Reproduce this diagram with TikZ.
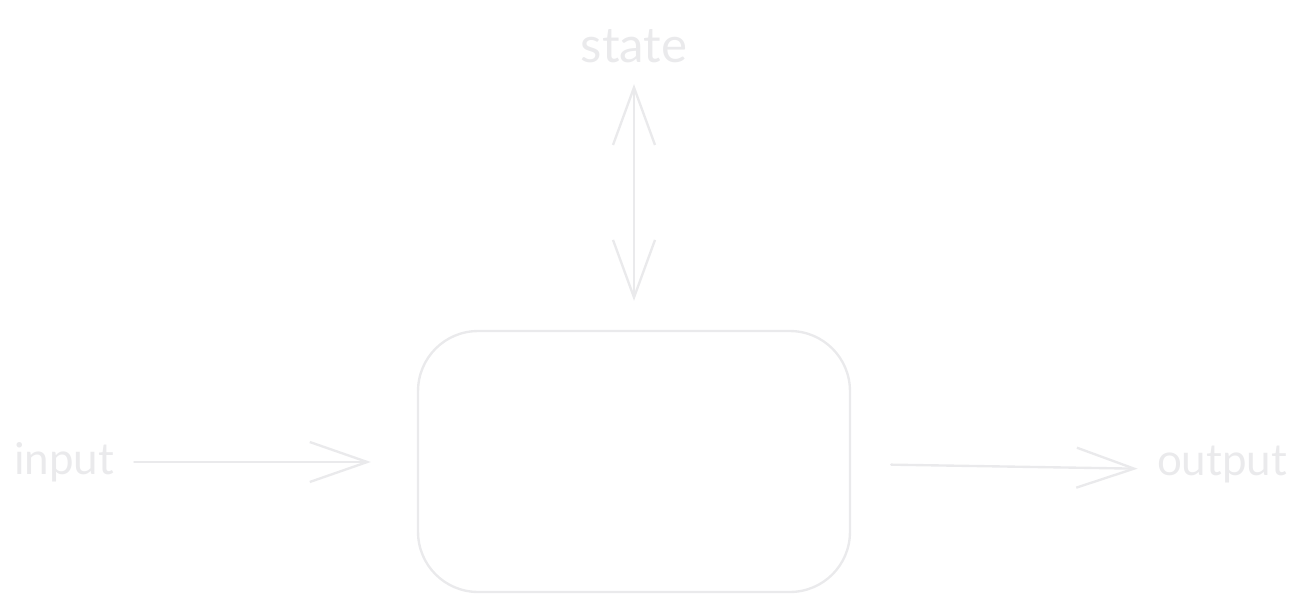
\documentclass[tikz,border=0pt]{standalone}
\usepackage{fontspec}
\setmainfont{Lato}
\usetikzlibrary{arrows.meta}

\definecolor{sketchgray}{RGB}{234,234,236}

\begin{document}
\begin{tikzpicture}[x=0.02cm, y=-0.02cm,
  textstyle/.style={sketchgray, inner sep=0pt, font=\fontsize{25}{30}\selectfont},
  flow/.style={sketchgray, line width=1.35pt, line cap=round,
    -{Straight Barb[length=1.15cm, width=0.8cm, line width=1.35pt]}}]

  \useasboundingbox (0,0) rectangle (1308,612);

  % the block
  \node (core) [draw=sketchgray, line width=1.35pt, rounded corners=1.2cm,
    minimum width=8.64cm, minimum height=5.22cm] at (634,461.5) {};

  % labels
  \node (state)  [textstyle, font=\fontsize{28}{32}\selectfont] at (634,46) {state};
  \node (input)  [textstyle] at (64,462)   {input};
  \node (output) [textstyle] at (1222,465) {output};

  % arrows
  \draw [flow, {Straight Barb[length=1.15cm, width=0.84cm, line width=1.35pt]}-{Straight Barb[length=1.15cm, width=0.84cm, line width=1.35pt]}, shorten <=0.42cm, shorten >=0.58cm]
    (state.south) -- (core.north);
  \draw [flow, shorten <=0.4cm, shorten >=0.92cm] (input.east) -- (input.east -| core.west);
  \draw [flow, shorten <=0.8cm, shorten >=0.38cm] (core.east |- 0,464) -- (output.west |- 0,469);

\end{tikzpicture}
\end{document}
